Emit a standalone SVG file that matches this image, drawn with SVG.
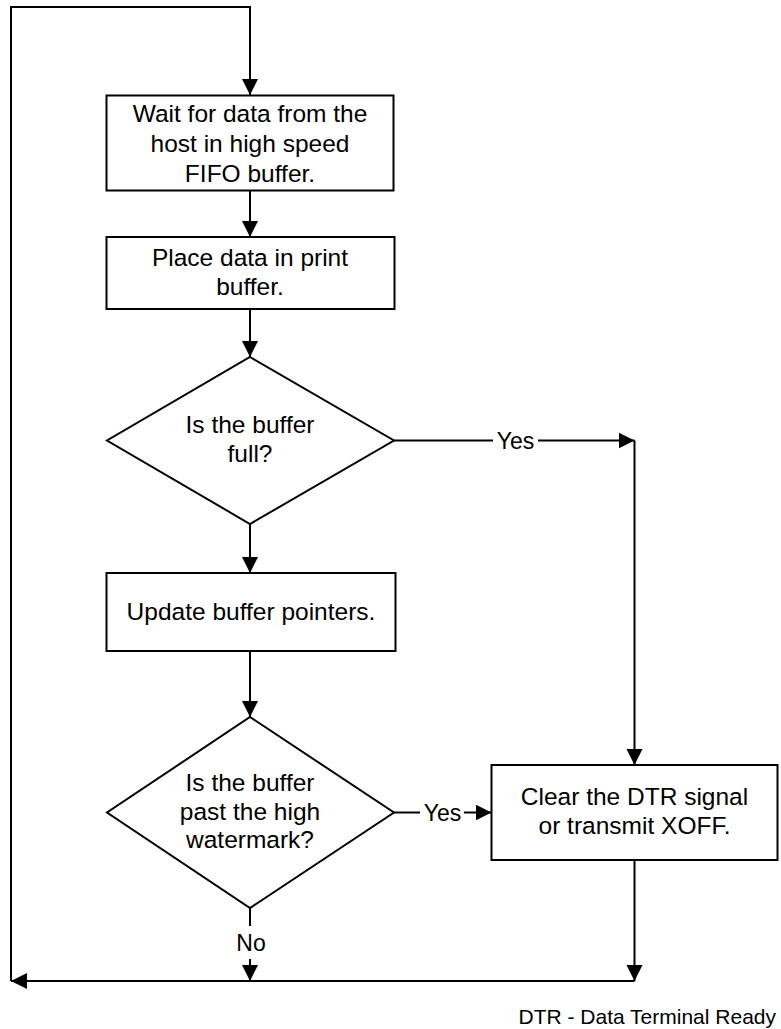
<svg xmlns="http://www.w3.org/2000/svg" width="781" height="1029" viewBox="0 0 781 1029">
<style>
  .shape { fill: #fff; stroke: #000; stroke-width: 2; }
  .conn { fill: none; stroke: #000; stroke-width: 2; }
  .t { font-family: "Liberation Sans", Arial, sans-serif; font-size: 24.5px; fill: #000; text-anchor: middle; }
  .lbl { font-family: "Liberation Sans", Arial, sans-serif; font-size: 23px; fill: #000; text-anchor: middle; }
  .note { font-family: "Liberation Sans", Arial, sans-serif; font-size: 21px; fill: #000; text-anchor: end; }
</style>
<defs>
  <marker id="arrow" markerUnits="userSpaceOnUse" markerWidth="17" markerHeight="17" refX="16" refY="8" orient="auto">
    <path d="M0,0 L16,8 L0,16 z" fill="#000"/>
  </marker>
</defs>
<rect width="781" height="1029" fill="#fff"/>

<g id="connectors">
  <path class="conn" d="M634.5,981 H11" marker-end="url(#arrow)"/>
  <path class="conn" d="M11,981 V7 H250 V95" marker-end="url(#arrow)"/>
  <path class="conn" d="M250,191 V237" marker-end="url(#arrow)"/>
  <path class="conn" d="M250,309 V357" marker-end="url(#arrow)"/>
  <path class="conn" d="M250,524 V573" marker-end="url(#arrow)"/>
  <path class="conn" d="M250,651 V717" marker-end="url(#arrow)"/>
  <path class="conn" d="M394,440.5 H493"/>
  <path class="conn" d="M538,440.5 H634.5" marker-end="url(#arrow)"/>
  <path class="conn" d="M634.5,440.5 V765" marker-end="url(#arrow)"/>
  <path class="conn" d="M394,812.5 H420"/>
  <path class="conn" d="M464,812.5 H491.5" marker-end="url(#arrow)"/>
  <path class="conn" d="M250,908 V926"/>
  <path class="conn" d="M250,959 V981" marker-end="url(#arrow)"/>
  <path class="conn" d="M634.5,860 V981" marker-end="url(#arrow)"/>
  <text class="lbl" x="515.5" y="448.5">Yes</text>
  <text class="lbl" x="442.5" y="820.5">Yes</text>
  <text class="lbl" x="251" y="951">No</text>
</g>

<g id="wait">
  <rect class="shape" x="106.5" y="95.5" width="287" height="95"/>
  <text class="t" x="250" y="122">Wait for data from the</text>
  <text class="t" x="250" y="152">host in high speed</text>
  <text class="t" x="250" y="182">FIFO buffer.</text>
</g>

<g id="place">
  <rect class="shape" x="106.5" y="237" width="288" height="72"/>
  <text class="t" x="250" y="266">Place data in print</text>
  <text class="t" x="250" y="295">buffer.</text>
</g>

<g id="full">
  <polygon class="shape" points="250,357 394,440.5 250,524 107,440.5"/>
  <text class="t" x="250" y="433">Is the buffer</text>
  <text class="t" x="250" y="462">full?</text>
</g>

<g id="update">
  <rect class="shape" x="106.5" y="573" width="289" height="78"/>
  <text class="t" x="251" y="620">Update buffer pointers.</text>
</g>

<g id="watermark">
  <polygon class="shape" points="250,717 394,812.5 250,908 107,812.5"/>
  <text class="t" x="250" y="791">Is the buffer</text>
  <text class="t" x="250" y="819.5">past the high</text>
  <text class="t" x="250" y="848">watermark?</text>
</g>

<g id="clear">
  <rect class="shape" x="491.5" y="765" width="286" height="95"/>
  <text class="t" x="634.5" y="805">Clear the DTR signal</text>
  <text class="t" x="634.5" y="834">or transmit XOFF.</text>
</g>

<g id="note">
  <text class="note" x="776" y="1024">DTR - Data Terminal Ready</text>
</g>
</svg>
